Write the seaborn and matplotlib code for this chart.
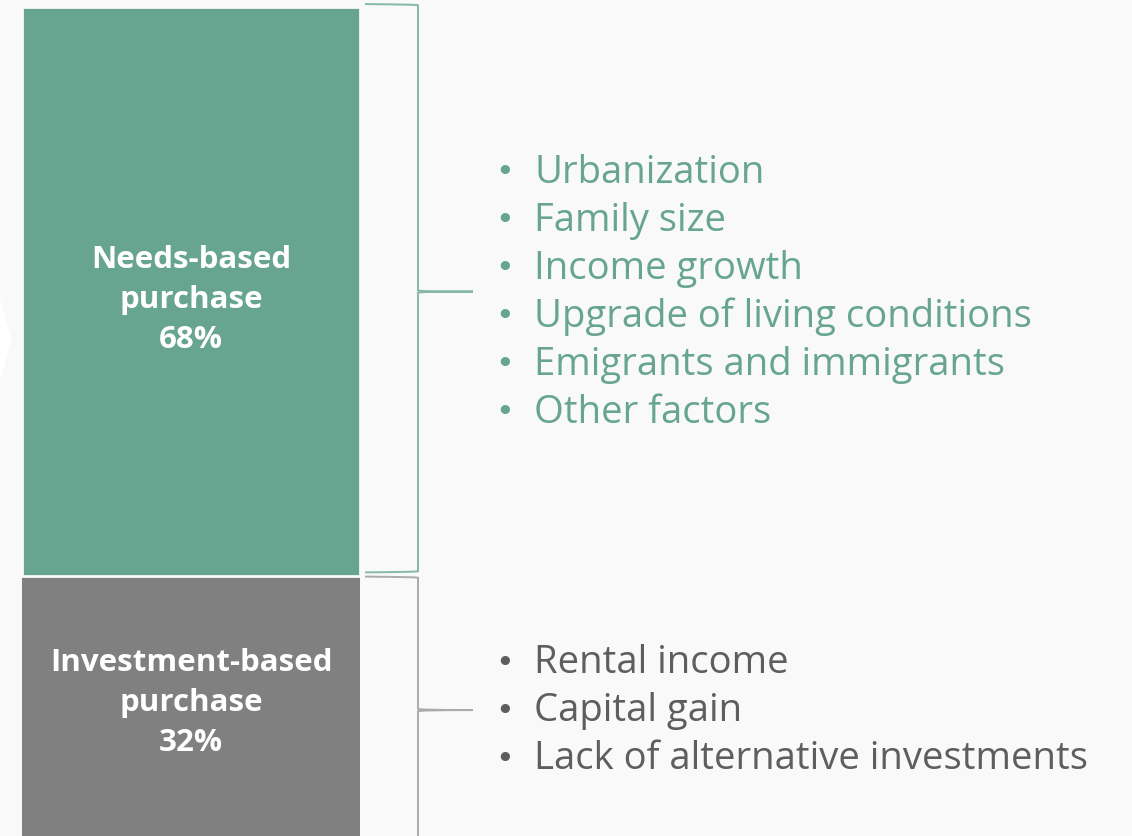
import numpy as np
import pandas as pd
import matplotlib.pyplot as plt
from matplotlib.path import Path
from matplotlib.patches import PathPatch, Polygon
import seaborn as sns

# data
segments = ["Needs-based\npurchase", "Investment-based\npurchase"]
shares = [68, 32]
seg_colors = ["#67a591", "#808080"]
brace_colors = ["#85b8a8", "#ababab"]
text_colors = ["#67a591", "#5e5e5e"]
drivers_needs = ["Urbanization", "Family size", "Income growth",
                 "Upgrade of living conditions", "Emigrants and immigrants",
                 "Other factors"]
drivers_invest = ["Rental income", "Capital gain",
                  "Lack of alternative investments"]
drivers = [drivers_needs, drivers_invest]

BG = "#f9f9f9"
sns.set_theme(style="white")
plt.rcParams["font.family"] = ["Open Sans", "DejaVu Sans"]

W, H = 1132, 837
fig = plt.figure(figsize=(W / 100, H / 100), dpi=100, facecolor=BG)

# bar axis: y in percent, 0 at top
y0 = -8 / H
ax_bar = fig.add_axes([22 / W, y0, 338 / W, 1.0])
ax = fig.add_axes([0, y0, 1, 1.0], zorder=0)
ax_bar.set_zorder(1)
ax_bar.patch.set_alpha(0)
ax.set_facecolor(BG)

# stacked bar, drawn back to front
cum = np.cumsum(shares)
for i in reversed(range(len(shares))):
    df = pd.DataFrame({"k": ["mix"], "v": [cum[i]]})
    sns.barplot(data=df, x="k", y="v", color=seg_colors[i], width=1,
                saturation=1, edgecolor=BG, linewidth=2 if i == 0 else 0,
                ax=ax_bar)
ax_bar.set_xlim(-0.5, 0.5)
ax_bar.set_ylim(100, 0)
ax_bar.axis("off")

ax.set_xlim(0, W)
ax.set_ylim(100, 0)
ax.axis("off")

# faint chevron at left edge
ax.add_patch(Polygon([(0, 34.8), (12, 39.8), (0, 44.5), (0, 34.8)],
                     closed=True, facecolor="white", edgecolor="none"))

starts = np.concatenate([[0], cum[:-1]])
px = 100 / H * 1.2  # ~10 px in percent units
label_shift = [0.9, -0.95]

for i, (s, v) in enumerate(zip(starts, shares)):
    top, bot = s - 0.35, s + v - 0.45
    if i == 1:
        top = s + 0.05
    mid = s + v / 2
    # label inside bar
    ax_bar.text(0, mid + label_shift[i], f"{segments[i]}\n{v}%",
                ha="center", va="center", color="white", fontsize=22.5,
                fontweight="bold", linespacing=1.45)
    # brace
    xa, xb, xt = 365, 418, 473
    verts = [(xa, top), (400, top + 0.05), (xb, top + 0.5 * px), (xb, top + px),
             (xb, mid - px), (xb, mid), (xt, mid),
             (xb, mid), (xb, mid + px),
             (xb, bot - px), (xb, bot - 0.5 * px), (400, bot - 0.05), (xa, bot)]
    codes = [Path.MOVETO, Path.CURVE4, Path.CURVE4, Path.CURVE4,
             Path.LINETO, Path.CURVE3, Path.CURVE3,
             Path.CURVE3, Path.CURVE3,
             Path.LINETO, Path.CURVE4, Path.CURVE4, Path.CURVE4]
    ax.add_patch(PathPatch(Path(verts, codes), facecolor="none",
                           edgecolor=brace_colors[i], lw=1.4,
                           clip_on=False))
    # bullet list
    n = len(drivers[i])
    step = 48 / H * 100
    for j, item in enumerate(drivers[i]):
        yy = mid + (j - (n - 1) / 2) * step
        ax.text(495, yy, "•", ha="left", va="center", fontsize=23,
                family="DejaVu Sans", color=text_colors[i])
        ax.text(534, yy, item, ha="left", va="center", fontsize=27.5,
                color=text_colors[i])

fig.savefig("out.png", dpi=100, facecolor=BG)
